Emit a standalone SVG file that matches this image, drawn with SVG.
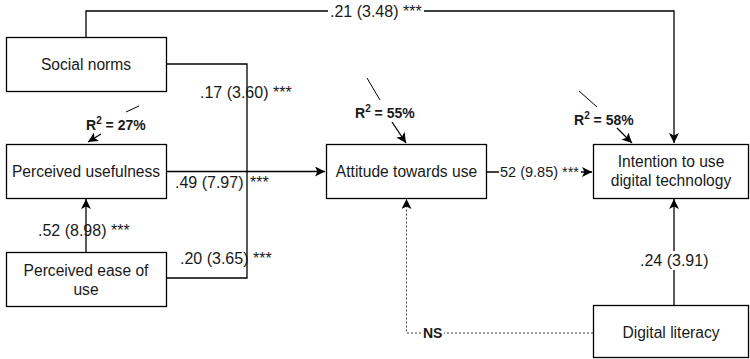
<svg xmlns="http://www.w3.org/2000/svg" width="750" height="359" viewBox="0 0 750 359">
<defs>
<marker id="arr" viewBox="0 0 10 10" refX="10" refY="5" markerWidth="10" markerHeight="10" markerUnits="userSpaceOnUse" orient="auto">
<path d="M0,0 L10,5 L0,10 L2.5,5 Z" fill="#000"/>
</marker>
</defs>
<style>
text{font-family:"Liberation Sans",Arial,Helvetica,sans-serif;fill:#1a1a1a}
.n{font-size:15.6px;text-anchor:middle}
.l{font-size:16px}
.s{font-size:14.5px}
.r{font-size:14px;font-weight:bold}
.box{fill:#fff;stroke:#000;stroke-width:1.3}
.c{fill:none;stroke:#000;stroke-width:1.3}
.d{fill:none;stroke:#444;stroke-width:1.1;stroke-dasharray:2,2}
.t{fill:none;stroke:#000;stroke-width:1}
.bg{fill:#fff}
</style>
<g id="connectors">
<path class="c" d="M86,37 V11 H674 V143" marker-end="url(#arr)"/>
<path class="c" d="M166,64 H247 V278 H166"/>
<path class="c" d="M166,171.5 H325" marker-end="url(#arr)"/>
<path class="c" d="M487,172 H592" marker-end="url(#arr)"/>
<path class="c" d="M86,252 V199" marker-end="url(#arr)"/>
<path class="c" d="M674,305 V199" marker-end="url(#arr)"/>
<path class="d" d="M593,333 H406.5 V199" marker-end="url(#arr)"/>
<rect class="bg" x="328" y="2" width="96" height="17"/>
<text class="l" x="330" y="17">.21 (3.48) ***</text>
<text class="l" x="200" y="98">.17 (3.60) ***</text>
<text class="l" x="180" y="264">.20 (3.65) ***</text>
<text class="l" x="175" y="188">.49 (7.97)</text>
<text class="l" x="250" y="188">***</text>
<text class="l" x="38" y="236">.52 (8.98) ***</text>
<rect class="bg" x="499" y="163" width="82" height="18"/>
<text class="s" x="500" y="177">52 (9.85) ***</text>
<rect class="bg" x="639" y="251" width="70" height="19"/>
<text class="l" x="640" y="266">.24 (3.91)</text>
<rect class="bg" x="422" y="326" width="22" height="14"/>
<text class="r" x="423" y="338">NS</text>
</g>
<g id="r2-27">
<line class="t" x1="126" y1="112" x2="139" y2="106"/>
<text class="r" x="86" y="130">R<tspan font-size="10" dy="-6">2</tspan><tspan dy="6"> = 27%</tspan></text>
<line class="c" x1="101" y1="134" x2="88" y2="142" marker-end="url(#arr)"/>
</g>
<g id="r2-55">
<line class="t" x1="367" y1="78" x2="380" y2="100"/>
<text class="r" x="355" y="118">R<tspan font-size="10" dy="-6">2</tspan><tspan dy="6"> = 55%</tspan></text>
<line class="c" x1="392" y1="122" x2="406" y2="143" marker-end="url(#arr)"/>
</g>
<g id="r2-58">
<line class="t" x1="579" y1="91" x2="597" y2="107"/>
<text class="r" x="574" y="125">R<tspan font-size="10" dy="-6">2</tspan><tspan dy="6"> = 58%</tspan></text>
<line class="c" x1="617" y1="128" x2="632" y2="143" marker-end="url(#arr)"/>
</g>
<g id="social-norms">
<rect class="box" x="6.5" y="37.5" width="160" height="54"/>
<text class="n" x="86" y="70">Social norms</text>
</g>
<g id="perceived-usefulness">
<rect class="box" x="6.5" y="144.5" width="160" height="54"/>
<text class="n" x="86" y="177">Perceived usefulness</text>
</g>
<g id="perceived-ease">
<rect class="box" x="6.5" y="252.5" width="160" height="54"/>
<text class="n" x="86" y="276">Perceived ease of</text>
<text class="n" x="86" y="295">use</text>
</g>
<g id="attitude">
<rect class="box" x="326.5" y="144.5" width="160" height="54"/>
<text class="n" x="406.5" y="177">Attitude towards use</text>
</g>
<g id="intention">
<rect class="box" x="593.5" y="144.5" width="155" height="54"/>
<text class="n" x="671" y="167">Intention to use</text>
<text class="n" x="671" y="186">digital technology</text>
</g>
<g id="digital-literacy">
<rect class="box" x="593.5" y="305.5" width="155" height="52"/>
<text class="n" x="671" y="338">Digital literacy</text>
</g>
</svg>
